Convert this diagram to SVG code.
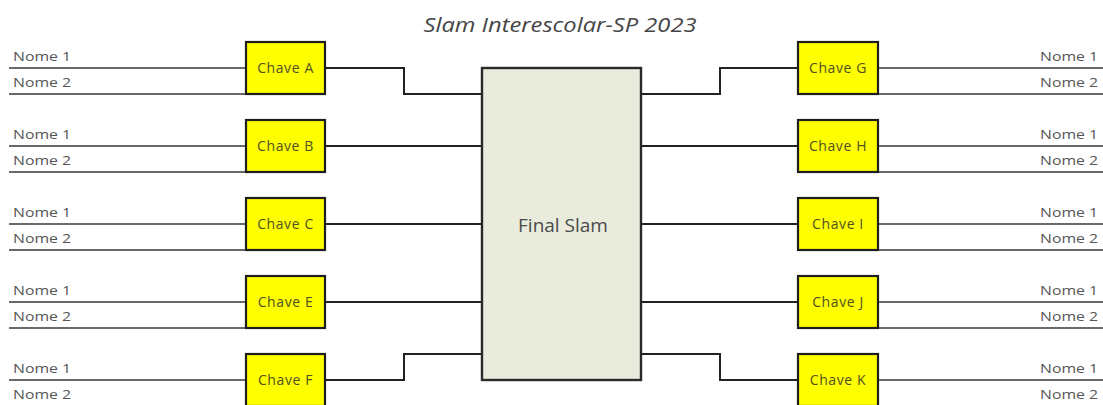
<svg xmlns="http://www.w3.org/2000/svg" width="1103" height="405" viewBox="0 0 1103 405">
<style>
.bg{fill:#ffffff}
.nl{stroke:#3a3a3a;stroke-width:1.5;fill:none}
.cn{stroke:#222222;stroke-width:2;fill:none}
.key{fill:#ffff00;stroke:#1e1e1e;stroke-width:2.2}
.fin{fill:#e9ecdc;stroke:#2a2a2a;stroke-width:2.4}
.nm{font-family:"Open Sans","DejaVu Sans",sans-serif;font-size:12px;fill:#555555}
.kt{font-family:"Open Sans","DejaVu Sans",sans-serif;font-size:14px;letter-spacing:0.6px;fill:#505020;text-anchor:middle}
.ft{font-family:"Open Sans","DejaVu Sans",sans-serif;font-size:19px;fill:#4a4a4a;text-anchor:middle}
.tt{font-family:"Open Sans","DejaVu Sans",sans-serif;font-size:20px;font-style:italic;fill:#454545;text-anchor:middle}
</style>
<rect class="bg" x="0" y="0" width="1103" height="405"/>
<text class="tt" x="560" y="32" textLength="273" lengthAdjust="spacingAndGlyphs">Slam Interescolar-SP 2023</text>

<g id="names">
  <g id="names-left">
    <path class="nl" d="M9 68H246M9 94H246M9 146H246M9 172H246M9 224H246M9 250H246M9 302H246M9 328H246M9 380H246M9 406H246"/>
    <text class="nm" x="13" y="61" textLength="58" lengthAdjust="spacingAndGlyphs">Nome 1</text>
    <text class="nm" x="13" y="87" textLength="58" lengthAdjust="spacingAndGlyphs">Nome 2</text>
    <text class="nm" x="13" y="139" textLength="58" lengthAdjust="spacingAndGlyphs">Nome 1</text>
    <text class="nm" x="13" y="165" textLength="58" lengthAdjust="spacingAndGlyphs">Nome 2</text>
    <text class="nm" x="13" y="217" textLength="58" lengthAdjust="spacingAndGlyphs">Nome 1</text>
    <text class="nm" x="13" y="243" textLength="58" lengthAdjust="spacingAndGlyphs">Nome 2</text>
    <text class="nm" x="13" y="295" textLength="58" lengthAdjust="spacingAndGlyphs">Nome 1</text>
    <text class="nm" x="13" y="321" textLength="58" lengthAdjust="spacingAndGlyphs">Nome 2</text>
    <text class="nm" x="13" y="373" textLength="58" lengthAdjust="spacingAndGlyphs">Nome 1</text>
    <text class="nm" x="13" y="399" textLength="58" lengthAdjust="spacingAndGlyphs">Nome 2</text>
  </g>
  <g id="names-right">
    <path class="nl" d="M878 68H1103M878 94H1103M878 146H1103M878 172H1103M878 224H1103M878 250H1103M878 302H1103M878 328H1103M878 380H1103M878 406H1103"/>
    <text class="nm" x="1040" y="61" textLength="58" lengthAdjust="spacingAndGlyphs">Nome 1</text>
    <text class="nm" x="1040" y="87" textLength="58" lengthAdjust="spacingAndGlyphs">Nome 2</text>
    <text class="nm" x="1040" y="139" textLength="58" lengthAdjust="spacingAndGlyphs">Nome 1</text>
    <text class="nm" x="1040" y="165" textLength="58" lengthAdjust="spacingAndGlyphs">Nome 2</text>
    <text class="nm" x="1040" y="217" textLength="58" lengthAdjust="spacingAndGlyphs">Nome 1</text>
    <text class="nm" x="1040" y="243" textLength="58" lengthAdjust="spacingAndGlyphs">Nome 2</text>
    <text class="nm" x="1040" y="295" textLength="58" lengthAdjust="spacingAndGlyphs">Nome 1</text>
    <text class="nm" x="1040" y="321" textLength="58" lengthAdjust="spacingAndGlyphs">Nome 2</text>
    <text class="nm" x="1040" y="373" textLength="58" lengthAdjust="spacingAndGlyphs">Nome 1</text>
    <text class="nm" x="1040" y="399" textLength="58" lengthAdjust="spacingAndGlyphs">Nome 2</text>
  </g>
</g>

<g id="connectors">
  <path class="cn" d="M325 68H404V94H482"/>
  <path class="cn" d="M325 146H482"/>
  <path class="cn" d="M325 224H482"/>
  <path class="cn" d="M325 302H482"/>
  <path class="cn" d="M325 380H404V354H482"/>
  <path class="cn" d="M641 94H720V68H798"/>
  <path class="cn" d="M641 146H798"/>
  <path class="cn" d="M641 224H798"/>
  <path class="cn" d="M641 302H798"/>
  <path class="cn" d="M641 354H720V380H798"/>
</g>

<g id="final"><rect class="fin" x="482" y="68" width="159" height="312"/><text class="ft" x="563" y="232">Final Slam</text></g>

<g id="chave-a"><rect class="key" x="246" y="42" width="79" height="52"/><text class="kt" x="285.5" y="73">Chave A</text></g>
<g id="chave-b"><rect class="key" x="246" y="120" width="79" height="52"/><text class="kt" x="285.5" y="151">Chave B</text></g>
<g id="chave-c"><rect class="key" x="246" y="198" width="79" height="52"/><text class="kt" x="285.5" y="229">Chave C</text></g>
<g id="chave-e"><rect class="key" x="246" y="276" width="79" height="52"/><text class="kt" x="285.5" y="307">Chave E</text></g>
<g id="chave-f"><rect class="key" x="246" y="354" width="79" height="52"/><text class="kt" x="285.5" y="385">Chave F</text></g>

<g id="chave-g"><rect class="key" x="798" y="42" width="80" height="52"/><text class="kt" x="838" y="73">Chave G</text></g>
<g id="chave-h"><rect class="key" x="798" y="120" width="80" height="52"/><text class="kt" x="838" y="151">Chave H</text></g>
<g id="chave-i"><rect class="key" x="798" y="198" width="80" height="52"/><text class="kt" x="838" y="229">Chave I</text></g>
<g id="chave-j"><rect class="key" x="798" y="276" width="80" height="52"/><text class="kt" x="838" y="307">Chave J</text></g>
<g id="chave-k"><rect class="key" x="798" y="354" width="80" height="52"/><text class="kt" x="838" y="385">Chave K</text></g>
</svg>
